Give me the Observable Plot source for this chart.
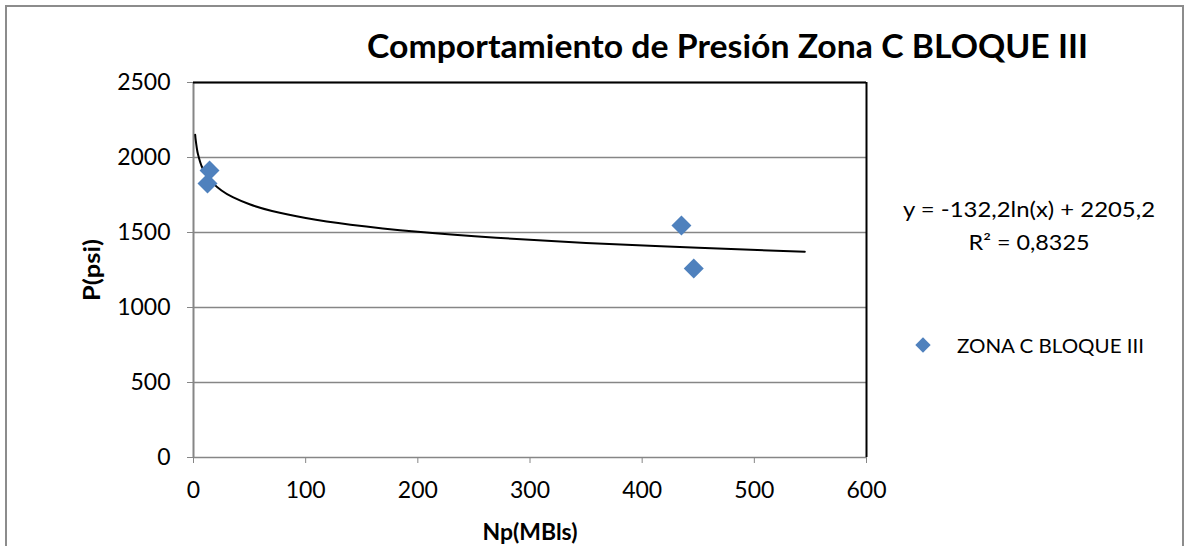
<!DOCTYPE html>
<html>
<head>
<meta charset="utf-8">
<script src="https://cdn.jsdelivr.net/npm/d3@7"></script>
<script src="https://cdn.jsdelivr.net/npm/@observablehq/plot@0.6"></script>
<style>
  html, body { margin: 0; padding: 0; background: #fff; }
  #chart { position: relative; width: 1186px; height: 546px; overflow: hidden; }
</style>
</head>
<body>
<div id="chart"></div>
<script>
// ---- data ----
const npValues = [12.5, 14.3, 435, 446];        // Np (MBls)
const pValues  = [1827, 1913, 1547, 1260];      // P (psi)
const xTicks = [0, 100, 200, 300, 400, 500, 600];
const yTicks = [0, 500, 1000, 1500, 2000, 2500];
// logarithmic trendline as printed on the chart: y = -132,2 ln(x) + 2205,2
const trendSlope = -132.2;
const trendIntercept = 2205.2;
const trendX = [1.5, 2, 3, 4, 6, 8, 12, 17, 25, 35, 50, 70, 100, 140, 200, 270, 350, 450, 545];
const titleText = "Comportamiento de Presión Zona C BLOQUE III";
const seriesName = "ZONA C BLOQUE III";
const xLabel = "Np(MBls)";
const yLabel = "P(psi)";
const eqText = "y = -132,2ln(x) + 2205,2";
const r2Text = "R² = 0,8325";

const points = npValues.map((x, i) => ({x, y: pValues[i]}));
const trend = trendX.map(x => ({x, y: trendSlope * Math.log(x) + trendIntercept}));

const FONT = "Lato, 'Open Sans', sans-serif";
const GRID = "#868686";
const BLUE = "#4F81BD";

const plot = Plot.plot({
  width: 1186,
  height: 546,
  marginLeft: 193,
  marginRight: 320,
  marginTop: 82,
  marginBottom: 89,
  style: {fontFamily: FONT, fontSize: "22px", color: "black", background: "white", overflow: "visible"},
  x: {domain: [0, 600], axis: null},
  y: {domain: [0, 2500], axis: null},
  marks: [
    Plot.gridY(yTicks, {stroke: GRID, strokeOpacity: 1, strokeWidth: 1.3}),
    Plot.ruleX([0], {stroke: GRID, strokeWidth: 2}),
    Plot.ruleY([2500], {stroke: "black", strokeWidth: 2}),
    Plot.ruleX([600], {stroke: "black", strokeWidth: 2}),
    Plot.axisY({ticks: yTicks, tickSize: 6, stroke: GRID, fill: "black", tickPadding: 17, fontSize: 23, tickFormat: d => String(d), label: null}),
    Plot.axisX({ticks: xTicks, tickSize: 6, stroke: GRID, fill: "black", tickPadding: 18, fontSize: 23, tickFormat: d => String(d), label: null}),
    Plot.line(trend, {x: "x", y: "y", stroke: "black", strokeWidth: 2, curve: "natural"}),
    Plot.dot(points, {x: "x", y: "y", symbol: "diamond2", r: 9, fill: BLUE, stroke: "none"})
  ]
});

document.getElementById("chart").appendChild(plot);

const svg = d3.select(plot);
// outer chart border
svg.append("rect").attr("x", 6).attr("y", 6).attr("width", 1177).attr("height", 620)
  .attr("fill", "none").attr("stroke", "#8c8c8c").attr("stroke-width", 2);

function txt(s, x, y, opts) {
  const t = svg.append("text").text(s).attr("x", x).attr("y", y)
    .attr("font-family", FONT).attr("font-size", opts.size).attr("fill", "black")
    .attr("text-anchor", opts.anchor || "start")
    .attr("font-weight", opts.bold ? "bold" : "normal");
  if (opts.len) t.attr("textLength", opts.len).attr("lengthAdjust", "spacingAndGlyphs");
  if (opts.rotate) t.attr("transform", `rotate(${opts.rotate}, ${x}, ${y})`);
  return t;
}

txt(titleText, 367, 58, {size: 33, bold: true, len: 721});
txt(xLabel, 530, 540, {size: 22, bold: true, anchor: "middle", len: 95});
txt(yLabel, 100, 270, {size: 22, bold: true, anchor: "middle", rotate: -90, len: 62});
txt(eqText, 1029, 217, {size: 21, anchor: "middle", len: 252});
txt(r2Text, 1029, 250, {size: 21, anchor: "middle", len: 121});
txt(seriesName, 957, 353, {size: 19, len: 187});
// legend symbol
svg.append("path").attr("d", d3.symbol(d3.symbolDiamond2, 150)())
  .attr("transform", "translate(923,345)").attr("fill", BLUE);
</script>
</body>
</html>
